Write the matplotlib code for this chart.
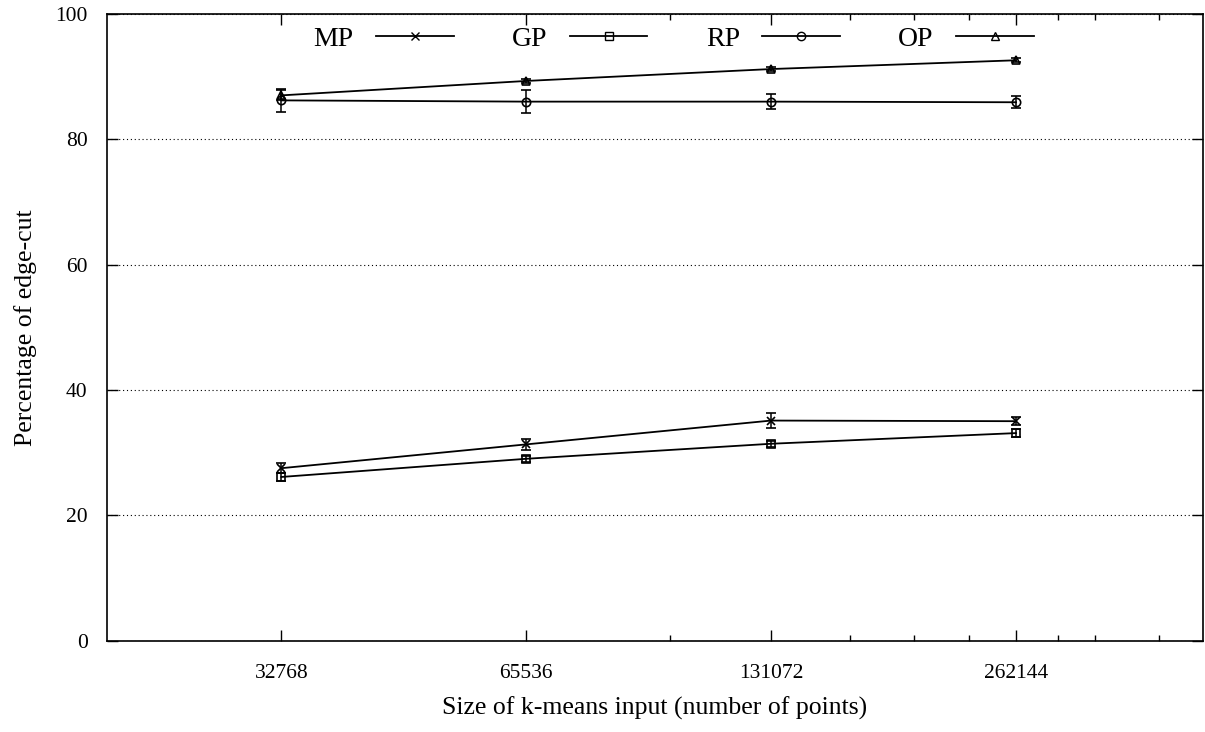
import matplotlib

matplotlib.use("Agg")
import matplotlib.pyplot as plt
from matplotlib.lines import Line2D
from matplotlib.ticker import FixedLocator, NullFormatter

# input sizes (number of points)
sizes = [32768, 65536, 131072, 262144]

# percentage of edge-cut per partitioner, with error half-widths
mp = [27.5, 31.3, 35.1, 35.0]
mp_err = [0.8, 0.85, 1.2, 0.6]
gp = [26.1, 29.0, 31.4, 33.1]
gp_err = [0.6, 0.5, 0.5, 0.7]
rp = [86.2, 86.0, 86.0, 85.9]
rp_err = [1.8, 1.8, 1.25, 0.95]
op = [87.0, 89.3, 91.2, 92.6]
op_err = [0.8, 0.3, 0.3, 0.3]

series = [
    ("MP", mp, mp_err, "x"),
    ("GP", gp, gp_err, "s"),
    ("RP", rp, rp_err, "o"),
    ("OP", op, op_err, "^"),
]

minor_ticks = [m * 32768 for m in (3, 5, 6, 7, 9, 10, 12)]

plt.rcParams["font.family"] = ["Liberation Serif", "DejaVu Serif"]

fig = plt.figure(figsize=(12.05, 7.32), dpi=100)
ax = fig.add_axes([0.0888, 0.125, 0.9095, 0.856])

handles = []
for name, vals, err, marker in series:
    ms = 6 if marker != "x" else 5.5
    ax.errorbar(
        sizes, vals, yerr=err, color="black", lw=1.3, marker=marker,
        ms=ms, mfc="none", mew=1.2, elinewidth=1.1, capsize=3.5, capthick=1.1,
    )
    handles.append(Line2D([], [], color="black", lw=1.3, marker=marker,
                          ms=ms, mfc="none", mew=1.0, label=name))

ax.set_xscale("log", base=2)
ax.set_xlim(20000, 445000)
ax.set_ylim(0, 100)
ax.xaxis.set_major_locator(FixedLocator(sizes))
ax.set_xticklabels([str(s) for s in sizes])
ax.xaxis.set_minor_locator(FixedLocator(minor_ticks))
ax.xaxis.set_minor_formatter(NullFormatter())
ax.set_yticks([0, 20, 40, 60, 80, 100])
ax.yaxis.grid(True, ls=(0, (1, 2.5)), color="black", lw=0.8)

ax.tick_params(which="both", direction="in", top=True, right=True, labelsize=15.5, width=1)
ax.tick_params(which="major", length=8)
ax.tick_params(which="minor", length=4)
ax.tick_params(axis="x", pad=17)
ax.tick_params(axis="y", pad=14)
for sp in ax.spines.values():
    sp.set_linewidth(1.2)

ax.set_xlabel("Size of k-means input (number of points)", fontsize=18.5, labelpad=10)
ax.set_ylabel("Percentage of edge-cut", fontsize=18.5, labelpad=13)

ax.legend(
    handles=handles, loc="upper center", bbox_to_anchor=(0.517, 1.0), ncol=4,
    frameon=False, markerfirst=False, fontsize=20, handlelength=2.8,
    columnspacing=2.1, handletextpad=0.8, borderaxespad=0.05,
)

fig.savefig("out.png", dpi=100)
